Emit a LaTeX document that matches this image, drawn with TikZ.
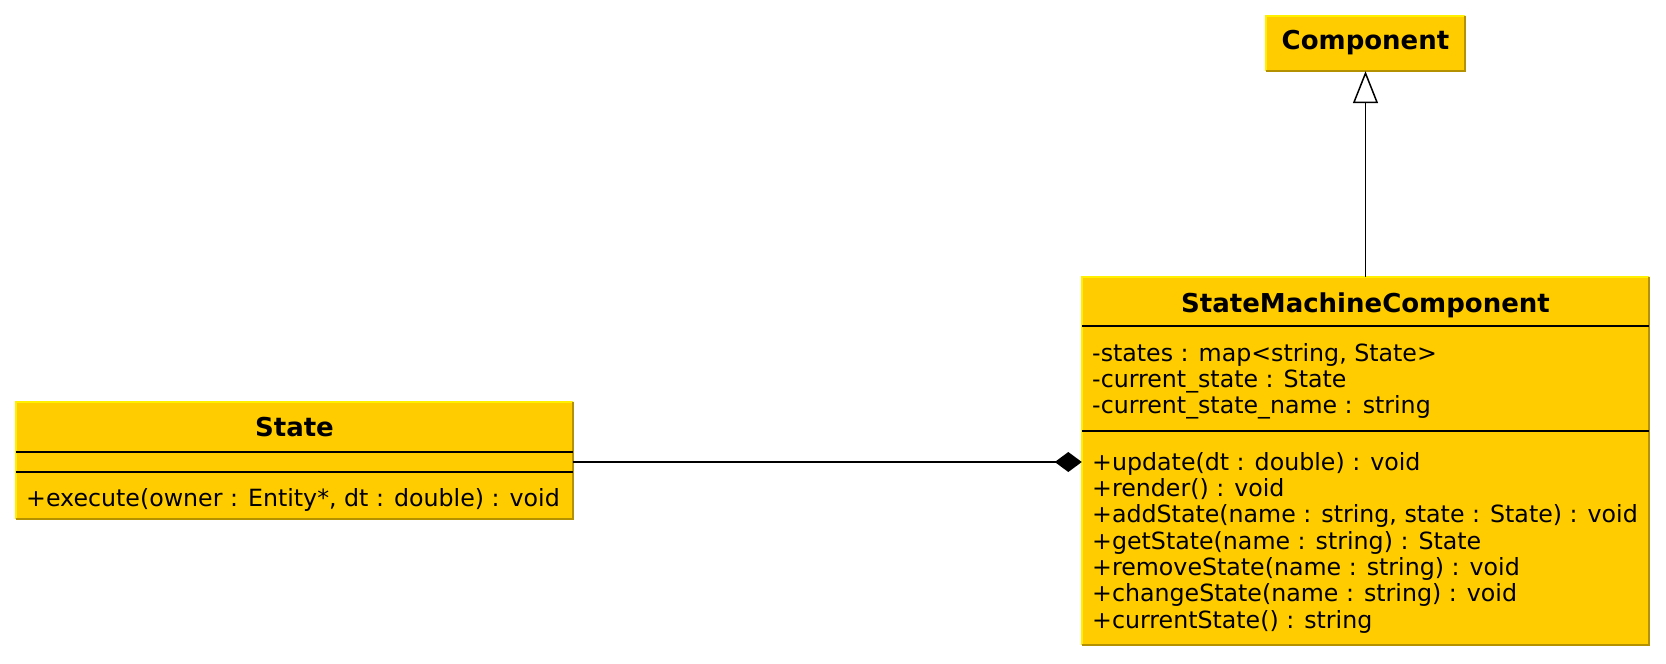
\documentclass[tikz,border=0pt]{standalone}
\usepackage{fontspec}
\setmainfont{DejaVu Sans}
\usetikzlibrary{arrows.meta}
\definecolor{boxfill}{RGB}{255,204,0}
\definecolor{edgelight}{RGB}{255,240,0}
\definecolor{edgedark}{RGB}{180,145,0}
\tikzset{
  box/.style={fill=boxfill, draw=none, inner sep=0pt, rectangle},
  lightedge/.style={draw=edgelight, line width=1.5pt},
  darkedge/.style={draw=edgedark, line width=2.5pt},
  sep/.style={draw=black, line width=1.5pt},
  title/.style={inner sep=0pt, anchor=base, font=\fontsize{26}{28}\selectfont\bfseries},
  member/.style={inner sep=0pt, anchor=base west, font=\fontsize{23.7}{26}\selectfont},
  link/.style={draw=black, line width=1.5pt},
}
\begin{document}
\begin{tikzpicture}[x=1pt,y=-1pt]
\useasboundingbox (0,0) rectangle (1666,664);
% boxes
\node[box, minimum width=199pt, minimum height=55pt] (comp) at (1365.5,43.5) {};
\node[box, minimum width=557pt, minimum height=117pt] (state) at (294.5,460.5) {};
\node[box, minimum width=567pt, minimum height=368pt] (smc) at (1365.5,461) {};
% edges
\foreach \b in {comp,state,smc}{
  \draw[lightedge] (\b.south west) -- (\b.north west) -- (\b.north east);
  \draw[darkedge] (\b.north east) -- (\b.south east) -- (\b.south west);
}
% Component
\node[title] (compt) at (1365.5,49.5) {Component};
% State
\node[title] (statet) at (294.5,436) {State};
\draw[sep] (state.west |- 0,452) coordinate (s1) -- (state.east |- 0,452);
\draw[sep] (state.west |- 0,472) coordinate (s2) -- (state.east |- 0,472);
\node[member] (sm1) at (26,506) {+execute(owner : Entity*, dt : double) : void};
% StateMachineComponent
\node[title] (smct) at (1365.5,312) {StateMachineComponent};
\draw[sep] (smc.west |- 0,326) -- (smc.east |- 0,326);
\draw[sep] (smc.west |- 0,431) -- (smc.east |- 0,431);
\node[member] (a1) at (1092,361) {-states : map<string, State>};
\node[member] (a2) at (1092,387) {-current\_state : State};
\node[member] (a3) at (1092,413) {-current\_state\_name : string};
\node[member] (m1) at (1092,470) {+update(dt : double) : void};
\node[member] (m2) at (1092,496.3) {+render() : void};
\node[member] (m3) at (1092,522.6) {+addState(name : string, state : State) : void};
\node[member] (m4) at (1092,549) {+getState(name : string) : State};
\node[member] (m5) at (1092,575.3) {+removeState(name : string) : void};
\node[member] (m6) at (1092,601.6) {+changeState(name : string) : void};
\node[member] (m7) at (1092,628) {+currentState() : string};
% connectors
\draw[link, -{Triangle[open, length=32pt, width=25pt, line width=1.5pt]}] (smc.north) -- (comp.south);
\draw[link, -{Diamond[length=27pt, width=20pt]}] (state.east |- 0,462) -- (smc.west |- 0,462);
\end{tikzpicture}
\end{document}
